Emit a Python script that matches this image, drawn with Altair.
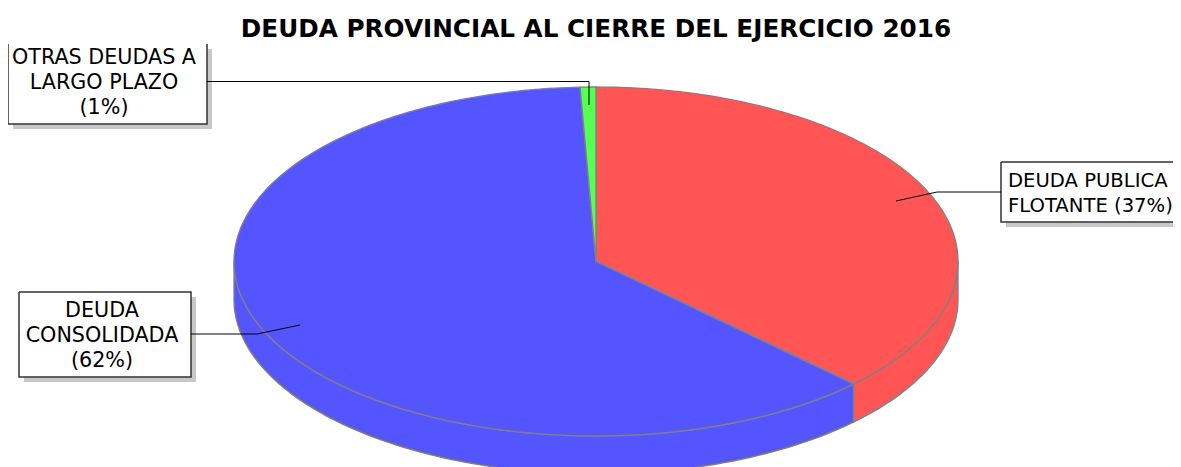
import math
import altair as alt
import pandas as pd

TITLE = "DEUDA PROVINCIAL AL CIERRE DEL EJERCICIO 2016"
SLICE_NAMES = ["DEUDA PUBLICA FLOTANTE", "DEUDA CONSOLIDADA", "OTRAS DEUDAS A LARGO PLAZO"]
SLICE_SHARES = [37.4, 61.9, 0.7]
SLICE_COLORS = ["#FF5555", "#5555FF", "#55FF55"]
LABEL_LINES = [
    ["DEUDA PUBLICA", "FLOTANTE (37%)"],
    ["DEUDA", "CONSOLIDADA", "(62%)"],
    ["OTRAS DEUDAS A", "LARGO PLAZO", "(1%)"],
]

W, H = 1165, 459
CX, CY, RX, RY, DEPTH = 596, 261.5, 362, 174.5, 38
OUTLINE = "#808080"
FONT = "DejaVu Sans"

xs = alt.Scale(domain=[8, 8 + W], range=[0, W], nice=False, zero=False)
ys = alt.Scale(domain=[8, 8 + H], range=[0, H], nice=False, zero=False)


def pt(deg, dy=0):
    a = math.radians(deg)
    return CX + RX * math.sin(a), CY - RY * math.cos(a) + dy


def arc(a0, a1, dy=0):
    n = max(2, int(abs(a1 - a0)) + 2)
    return [pt(a0 + (a1 - a0) * i / (n - 1), dy) for i in range(n)]


def path(points, fill=None, stroke=OUTLINE, width=1.3, clip=False):
    df = pd.DataFrame(points, columns=["x", "y"])
    df["o"] = range(len(df))
    kw = {"stroke": stroke, "strokeWidth": width, "strokeJoin": "miter", "interpolate": "linear", "clip": clip}
    if fill:
        kw["fill"] = fill
    return alt.Chart(df).mark_line(**kw).encode(
        x=alt.X("x:Q", scale=xs, axis=None),
        y=alt.Y("y:Q", scale=ys, axis=None),
        order="o:Q",
    )


def box(x0, y0, x1, y1, color):
    df = pd.DataFrame([{"x": x0, "x2": x1, "y": y0, "y2": y1}])
    return alt.Chart(df).mark_rect(color=color, clip=True).encode(
        x=alt.X("x:Q", scale=xs, axis=None), x2="x2:Q",
        y=alt.Y("y:Q", scale=ys, axis=None), y2="y2:Q",
    )


def text(lines, x, y, align="center", size=20.7):
    df = pd.DataFrame({"t": lines, "y": [y + i * 25 for i in range(len(lines))], "x": x})
    return alt.Chart(df).mark_text(font=FONT, fontSize=size, align=align, baseline="middle", color="#000000").encode(
        x=alt.X("x:Q", scale=xs, axis=None),
        y=alt.Y("y:Q", scale=ys, axis=None),
        text="t:N",
    )


# slice angles, clockwise from the top of the ellipse
angles = []
start = 0.0
for s in SLICE_SHARES:
    angles.append((start, start + s * 3.6))
    start += s * 3.6

layers = []
# side walls
red_end = angles[0][1]
layers.append(path(arc(90, red_end) + arc(red_end, 90, DEPTH) + [pt(90)], SLICE_COLORS[0]))
layers.append(path(arc(red_end, 270) + arc(270, red_end, DEPTH) + [pt(red_end)], SLICE_COLORS[1]))
# top faces
for (a0, a1), c in zip(angles, SLICE_COLORS):
    layers.append(path([(CX, CY)] + arc(a0, a1) + [(CX, CY)], c))

# label boxes: shadow, white body, border
for x0, y0, x1, y1, closed_top in [(8, 44, 207, 124, False), (1001, 162, 1190, 222, True), (19, 292, 191, 377, True)]:
    layers.append(box(x0 + 5, y0 + 5, x1 + 5, y1 + 5, "#C8C8C8"))
    layers.append(box(x0, y0, x1, y1, "#FFFFFF"))
    if closed_top:
        pts = [(x0, y0), (x1, y0), (x1, y1), (x0, y1), (x0, y0)]
    else:
        pts = [(x0, y0), (x0, y1), (x1, y1), (x1, y0)]
    layers.append(path(pts, None, "#333333", 1.5, True))

# leader lines
layers.append(path([(207, 81.5), (589, 81.5), (589, 105)], None, "#000000", 1))
layers.append(path([(1001, 192), (937, 192), (896, 201)], None, "#000000", 1))
layers.append(path([(191, 334), (257, 334), (300, 325)], None, "#000000", 1))

# label text
layers.append(text(LABEL_LINES[0], 1008, 180.5, "left", 19.6))
layers.append(text(LABEL_LINES[1], 102, 310.5))
layers.append(text(LABEL_LINES[2], 104, 58))

chart = alt.layer(*layers).properties(
    width=W, height=H, padding=0,
    autosize=alt.AutoSizeParams(type="none"),
    title=alt.TitleParams(TITLE, font=FONT, fontSize=24.7, fontWeight="bold", color="#000000",
                          anchor="middle", baseline="alphabetic", offset=-54, dx=5.5),
).configure_view(stroke=None)

chart.save("out.html", embed_options={"renderer": "svg", "actions": False})
